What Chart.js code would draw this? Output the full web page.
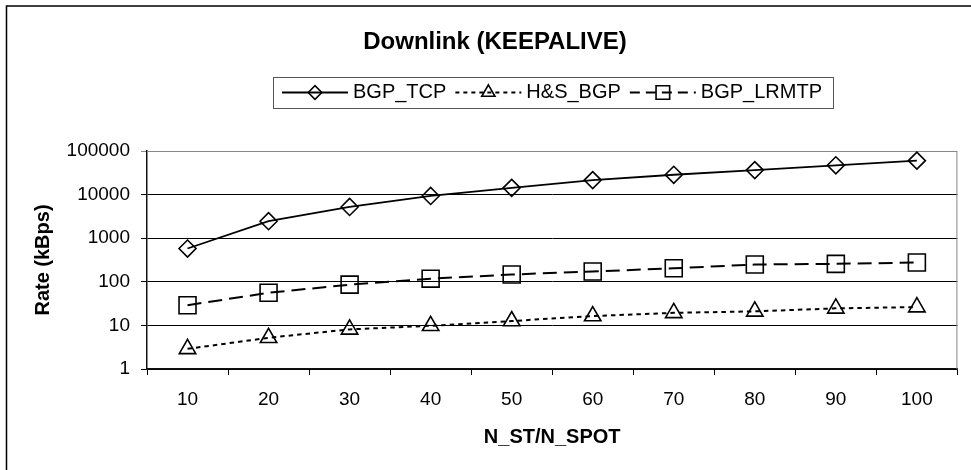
<!DOCTYPE html>
<html>
<head>
<meta charset="utf-8">
<script src="https://cdn.jsdelivr.net/npm/chart.js@4.4.1/dist/chart.umd.min.js"></script>
<style>
  html, body { margin: 0; padding: 0; background: #fff; }
  canvas { display: block; }
</style>
</head>
<body>
<canvas id="grafico" width="971" height="470"></canvas>
<script>
const titulo = 'Downlink (KEEPALIVE)';
const nomeEixoX = 'N_ST/N_SPOT';
const nomeEixoY = 'Rate (kBps)';

const categorias = ['10', '20', '30', '40', '50', '60', '70', '80', '90', '100'];
const ticksY = [1, 10, 100, 1000, 10000, 100000];

const nomesSeries = ['BGP_TCP', 'H&S_BGP', 'BGP_LRMTP'];
const bgpTcp   = [580, 2450, 5200, 9300, 14300, 21500, 28500, 36500, 47000, 60000];
const hsBgp    = [2.9, 5.2, 8.1, 9.8, 12.6, 16.4, 19.4, 21, 24.6, 26.3];
const bgpLrmtp = [29, 56, 86, 118, 147, 172, 204, 249, 258, 277];

const fonte = "'Liberation Sans', Arial, sans-serif";

// fundo, moldura externa, borda da área de plotagem, título e legenda
const molduraPlugin = {
  id: 'moldura',
  beforeDraw(chart) {
    const ctx = chart.ctx;
    ctx.save();
    ctx.fillStyle = '#fff';
    ctx.fillRect(0, 0, chart.width, chart.height);
    ctx.strokeStyle = '#000';
    ctx.lineWidth = 1.5;
    ctx.strokeRect(6.5, 6, chart.width + 20, chart.height + 20);
    ctx.restore();
  },
  beforeDatasetsDraw(chart) {
    const ctx = chart.ctx;
    const a = chart.chartArea;
    ctx.save();
    ctx.strokeStyle = '#888';
    ctx.lineWidth = 1;
    ctx.beginPath();
    ctx.moveTo(a.left, a.top + 0.5);
    ctx.lineTo(a.right - 0.5, a.top + 0.5);
    ctx.lineTo(a.right - 0.5, a.bottom);
    ctx.stroke();
    ctx.restore();
  },
  afterDraw(chart) {
    const ctx = chart.ctx;
    ctx.save();
    // título
    ctx.fillStyle = '#000';
    ctx.font = 'bold 24px ' + fonte;
    ctx.textAlign = 'center';
    ctx.textBaseline = 'middle';
    ctx.fillText(titulo, 495, 42);

    // legenda
    ctx.font = '20px ' + fonte;
    ctx.textAlign = 'left';
    const yL = 92.5;
    let x = 282;
    const posicoes = [];
    chart.data.datasets.forEach(ds => {
      const largText = ctx.measureText(ds.label).width;
      posicoes.push(x);
      x += 66 + 5 + largText + 9;
    });
    ctx.strokeStyle = '#555';
    ctx.lineWidth = 1;
    ctx.setLineDash([]);
    ctx.strokeRect(273.5, 77.5, x - 273 + 2, 31);

    chart.data.datasets.forEach((ds, i) => {
      const x0 = posicoes[i];
      ctx.strokeStyle = '#000';
      ctx.lineWidth = ds.borderWidth;
      ctx.setLineDash(ds.legendDash || ds.borderDash || []);
      ctx.beginPath();
      ctx.moveTo(x0, yL);
      ctx.lineTo(x0 + 66, yL);
      ctx.stroke();
      ctx.setLineDash([]);
      ctx.fillStyle = 'rgba(0,0,0,0)';
      ctx.lineWidth = ds.pointBorderWidth;
      Chart.helpers.drawPoint(ctx, {
        pointStyle: ds.pointStyle,
        radius: ds.pointRadius * 0.8,
        rotation: 0,
        borderWidth: ds.pointBorderWidth
      }, x0 + 33, yL);
      ctx.fillStyle = '#000';
      ctx.fillText(ds.label, x0 + 71, yL);
    });
    ctx.restore();
  }
};

const ctx = document.getElementById('grafico').getContext('2d');

const grafico = new Chart(ctx, {
  type: 'line',
  data: {
    labels: categorias,
    datasets: [
      {
        label: nomesSeries[0],
        data: bgpTcp,
        borderColor: '#000',
        borderWidth: 1.8,
        tension: 0,
        fill: false,
        pointStyle: 'rectRot',
        pointRadius: 8.5,
        pointBorderWidth: 1.6,
        pointBorderColor: '#000',
        pointBackgroundColor: 'rgba(0,0,0,0)'
      },
      {
        label: nomesSeries[1],
        data: hsBgp,
        borderColor: '#000',
        borderWidth: 2,
        borderDash: [4.5, 4],
        legendDash: [4, 4],
        tension: 0,
        fill: false,
        pointStyle: 'triangle',
        pointRadius: 9.5,
        pointBorderWidth: 1.6,
        pointBorderColor: '#000',
        pointBackgroundColor: 'rgba(0,0,0,0)'
      },
      {
        label: nomesSeries[2],
        data: bgpLrmtp,
        borderColor: '#000',
        borderWidth: 2,
        borderDash: [14, 7],
        legendDash: [10, 6],
        tension: 0,
        fill: false,
        pointStyle: 'rect',
        pointRadius: 12,
        pointBorderWidth: 1.6,
        pointBorderColor: '#000',
        pointBackgroundColor: 'rgba(0,0,0,0)'
      }
    ]
  },
  options: {
    responsive: false,
    animation: false,
    layout: { padding: { top: 151, right: 3, left: 0, bottom: 0 } },
    plugins: {
      legend: { display: false },
      title: { display: false },
      tooltip: { enabled: false }
    },
    scales: {
      x: {
        type: 'category',
        offset: true,
        grid: { offset: true, drawOnChartArea: false, drawTicks: true, tickLength: 6, color: '#000' },
        border: { color: '#111', width: 1.5 },
        ticks: { color: '#000', font: { family: fonte, size: 19 }, padding: 13, maxRotation: 0, autoSkip: false },
        title: {
          display: true,
          text: nomeEixoX,
          color: '#000',
          font: { family: fonte, size: 20, weight: 'bold' },
          padding: { top: 21, bottom: 21 }
        },
        afterFit(s) { s.height = 101; }
      },
      y: {
        type: 'logarithmic',
        min: 1,
        max: 100000,
        afterBuildTicks(s) { s.ticks = ticksY.map(v => ({ value: v })); },
        grid: {
          drawTicks: true,
          tickLength: 6,
          color: c => (c.tick && c.tick.value === 100000) ? '#888' : '#000'
        },
        border: { color: '#111', width: 1.5 },
        ticks: {
          color: '#000',
          font: { family: fonte, size: 19 },
          padding: 11,
          callback: v => String(v)
        },
        title: {
          display: true,
          text: nomeEixoY,
          color: '#000',
          font: { family: fonte, size: 20, weight: 'bold' },
          padding: { top: 31, bottom: 0 }
        },
        afterFit(s) { s.width = 147; }
      }
    }
  },
  plugins: [molduraPlugin]
});
</script>
</body>
</html>
